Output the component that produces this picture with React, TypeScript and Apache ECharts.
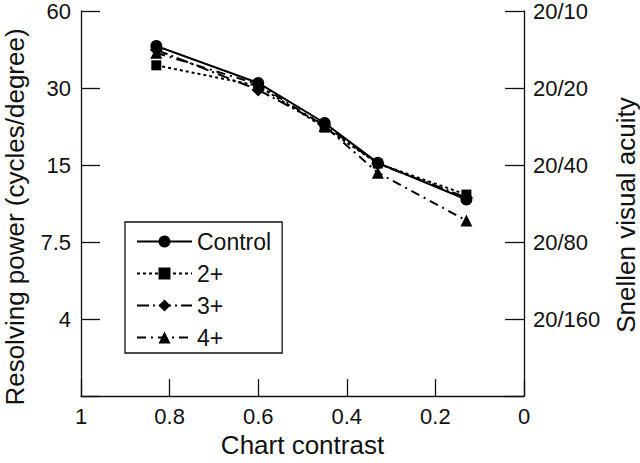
import React, { useEffect, useRef } from "react";
import * as echarts from "echarts";

// Chart contrast (x) for each measurement
const contrast = [0.83, 0.6, 0.45, 0.33, 0.13];
// Resolving power (cycles/degree)
const control = [43.8, 31.4, 21.9, 15.3, 11.0];
const grade2 = [36.8, 30.6, 21.0, 15.2, 11.5];
const grade3 = [42.3, 29.5, 21.5, 15.2, 11.2];
const grade4 = [41.2, 31.0, 21.3, 14.0, 9.1];

// Log2 axis: reference value (bottom of plot) in cycles/degree
const Y_BOTTOM = 1.875;
// Tick positions (in multiples of Y_BOTTOM) and labels
const leftTickLabels: Record<number, string> = { 1: "", 2: "4", 4: "7.5", 8: "15", 16: "30", 32: "60" };
const rightTickLabels: Record<number, string> = { 1: "", 2: "20/160", 4: "20/80", 8: "20/40", 16: "20/20", 32: "20/10" };
const xTickLabels = ["0", "0.2", "0.4", "0.6", "0.8", "1"];

const FONT = "Liberation Sans, Arial, Helvetica, sans-serif";

function toData(vals: number[]) {
  return contrast.map((c, i) => [c, vals[i] / Y_BOTTOM]);
}

export default function App() {
  const ref = useRef<HTMLDivElement>(null);
  useEffect(() => {
    if (!ref.current) return;
    const chart = echarts.init(ref.current, undefined, { renderer: "svg" });
    const lineStyle = { color: "#111", width: 1.3 };
    const yAxisCommon = {
      type: "log" as const,
      logBase: 2,
      min: 1,
      max: 32,
      axisLine: { show: true, onZero: false, lineStyle },
      axisTick: { show: true, inside: true, length: 19, lineStyle },
      splitLine: { show: false },
      minorTick: { show: false },
    };
    const option: any = {
      animation: false,
      backgroundColor: "#fff",
      grid: { left: 81, right: 116, top: 9, bottom: 58, containLabel: false },
      xAxis: {
        type: "value",
        min: 0,
        max: 1,
        interval: 0.2,
        inverse: true,
        axisLine: { show: true, onZero: false, lineStyle },
        axisTick: { show: true, inside: true, length: 17, lineStyle },
        splitLine: { show: false },
        axisLabel: {
          color: "#111",
          fontSize: 22,
          fontFamily: FONT,
          margin: 9,
          formatter: (v: number) => xTickLabels[Math.round(v * 5)] ?? "",
        },
        name: "Chart contrast",
        nameLocation: "middle",
        nameGap: 31,
        nameTextStyle: { color: "#111", fontSize: 26, fontFamily: FONT },
      },
      yAxis: [
        {
          ...yAxisCommon,
          position: "left",
          axisLabel: {
            color: "#111",
            fontSize: 22,
            fontFamily: FONT,
            margin: 10,
            formatter: (v: number) => leftTickLabels[Math.round(v)] ?? "",
          },
        },
        {
          ...yAxisCommon,
          position: "right",
          axisLabel: {
            color: "#111",
            fontSize: 22,
            fontFamily: FONT,
            margin: 9,
            formatter: (v: number) => rightTickLabels[Math.round(v)] ?? "",
          },
        },
      ],
      legend: {
        orient: "vertical",
        left: 125,
        top: 222,
        data: ["Control", "2+", "3+", "4+"],
        borderColor: "#111",
        borderWidth: 1.3,
        padding: [8, 11, 4, 11],
        itemGap: 9,
        itemWidth: 55,
        itemHeight: 15,
        textStyle: { color: "#111", fontSize: 23, fontFamily: FONT },
        backgroundColor: "#fff",
      },
      graphic: [
        {
          type: "text",
          x: 15,
          y: 217,
          rotation: Math.PI / 2,
          style: {
            text: "Resolving power (cycles/degree)",
            fill: "#111",
            fontSize: 26,
            fontFamily: FONT,
            align: "center",
            verticalAlign: "middle",
          },
        },
        {
          type: "text",
          x: 626,
          y: 215,
          rotation: Math.PI / 2,
          style: {
            text: "Snellen visual acuity",
            fill: "#111",
            fontSize: 26,
            fontFamily: FONT,
            align: "center",
            verticalAlign: "middle",
          },
        },
      ],
      series: [
        {
          name: "2+",
          type: "line",
          yAxisIndex: 0,
          data: toData(grade2),
          symbol: "rect",
          symbolSize: 10,
          z: 2,
          lineStyle: { color: "#000", width: 2, type: [3, 3] },
          itemStyle: { color: "#000" },
        },
        {
          name: "3+",
          type: "line",
          yAxisIndex: 0,
          data: toData(grade3),
          symbol: "diamond",
          symbolSize: 13,
          z: 3,
          lineStyle: { color: "#000", width: 2, type: [12, 4, 2, 4] },
          itemStyle: { color: "#000" },
        },
        {
          name: "4+",
          type: "line",
          yAxisIndex: 0,
          data: toData(grade4),
          symbol: "triangle",
          symbolSize: 12,
          z: 4,
          lineStyle: { color: "#000", width: 2, type: [9, 5, 2, 5] },
          itemStyle: { color: "#000" },
        },
        {
          name: "Control",
          type: "line",
          yAxisIndex: 0,
          data: toData(control),
          symbol: "circle",
          symbolSize: 12,
          z: 5,
          lineStyle: { color: "#000", width: 2 },
          itemStyle: { color: "#000" },
        },
      ],
    };
    chart.setOption(option);
    return () => chart.dispose();
  }, []);
  return (
    <div
      ref={ref}
      style={{ position: "fixed", left: 0, top: 0, width: 640, height: 463, background: "#fff" }}
    />
  );
}
